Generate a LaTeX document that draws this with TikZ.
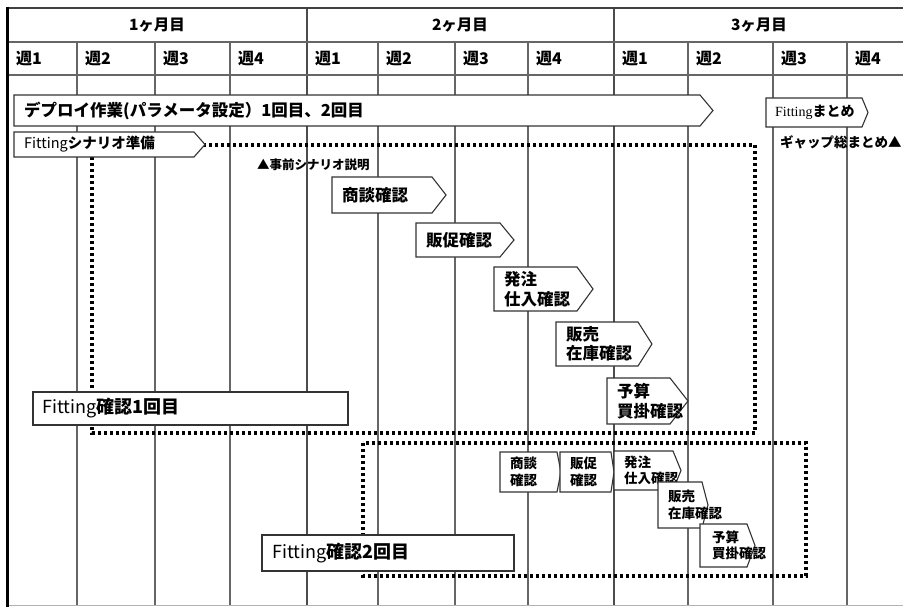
\documentclass[tikz,border=0pt]{standalone}
\usepackage{fontspec}
\setmainfont{Noto Sans CJK JP}
\newfontfamily\serifl{Liberation Serif}
\newcommand\chev[8]{%
  \draw[box] (#2,#3) -- (#4,#3) -- (#5,{(#3+#6)/2}) -- (#4,#6) -- (#2,#6) -- cycle;
  \node[#7] (#1) at ({#2+10},{(#3+#6)/2}) {#8};
}
\begin{document}
\begin{tikzpicture}[x=1pt,y=-1pt,
  grid/.style={draw=black!60,line width=1.5pt},
  box/.style={draw=black!80,line width=1.1pt,fill=white},
  dotline/.style={draw=black,line width=3.2pt,dash pattern=on 3pt off 3pt},
  lblbase/.style={inner sep=0pt,anchor=west,align=left},
  big/.style={lblbase,font=\fontsize{16.5}{19.5}\selectfont\bfseries},
  small/.style={lblbase,font=\fontsize{13.5}{16.5}\selectfont\bfseries},
  head/.style={inner sep=0pt,font=\fontsize{15.5}{18}\selectfont\bfseries},
  week/.style={inner sep=0pt,anchor=west,font=\fontsize{16}{18}\selectfont\bfseries},
  note/.style={inner sep=0pt,anchor=west,font=\fontsize{13.5}{15}\selectfont\bfseries}]
\useasboundingbox[fill=white] (0,0) rectangle (903,607);
% grid
\foreach \x in {77,155,230,378,455,528,688,773,847}
  \draw[grid] (\x,42) -- (\x,605);
\foreach \x in {307,614}
  \draw[grid,draw=black!70] (\x,8) -- (\x,605);
\draw[draw=black!75,line width=2pt] (7,8) -- (903,8);
\draw[grid] (7,42) -- (903,42);
\draw[grid] (7,75) -- (903,75);
\draw[draw=black!30,line width=1pt] (7,605.5) -- (903,605.5);
\draw[draw=black,line width=3pt] (7,7) -- (7,607);
% headers
\node[head] (m1) at (157,25) {1ヶ月目};
\node[head] (m2) at (460,25) {2ヶ月目};
\node[head] (m3) at (759,25) {3ヶ月目};
\foreach \x/\w [count=\i] in {8/1,77/2,155/3,230/4,307/1,378/2,455/3,528/4,614/1,688/2,773/3,847/4}
  \node[week] (w\i) at (\x+8,59) {週\w};
% dotted frames
\draw[dotline] (92,145) rectangle (755,433);
\draw[dotline] (363,443) rectangle (806,576);
% top bars
\chev{deploy}{14}{95}{700}{713}{126}{big}{デプロイ作業(パラメータ設定）1回目、2回目}
\chev{prep}{14}{132}{194}{205}{157}{lblbase,font=\fontsize{14.5}{17}\selectfont}{Fitting{\bfseries シナリオ準備}}
\chev{matome}{766}{98}{862}{868}{127}{lblbase,xshift=-1pt,font=\fontsize{14}{15}\selectfont}{{\serifl Fitting}{\bfseries まとめ}}
\node[note] (gap) at (780,142) {ギャップ総まとめ▲};
\node[note,font=\fontsize{12.5}{15}\selectfont\bfseries] (pre) at (257,165) {▲事前シナリオ説明};
% first round
\chev{s1}{332}{177}{432}{446}{213}{big}{商談確認}
\chev{s2}{416}{223}{500}{514}{257}{big}{販促確認}
\chev{s3}{494}{267}{577}{593}{311}{big}{発注\\仕入確認}
\chev{s4}{556}{322}{638}{652}{366}{big}{販売\\在庫確認}
\chev{s5}{607}{378}{670}{688}{424}{big}{予算\\買掛確認}
\draw[box] (33,392) rectangle (348,425);
\node[lblbase,font=\fontsize{18}{20}\selectfont] (fit1) at (42,408.5) {Fitting{\bfseries 確認1回目}};
% second round
\chev{t1}{500}{452}{557}{561}{492}{small}{商談\\確認}
\chev{t2}{560}{452}{611}{614}{492}{small}{販促\\確認}
\chev{t3}{614}{451}{673}{681}{490}{small}{発注\\仕入確認}
\chev{t4}{658}{482}{702}{708}{528}{small}{販売\\在庫確認}
\chev{t5}{700}{524}{747}{755}{567}{small,xshift=2pt}{予算\\買掛確認}
\draw[box] (262,535) rectangle (514,571);
\node[lblbase,font=\fontsize{18}{20}\selectfont] (fit2) at (272,553) {Fitting{\bfseries 確認2回目}};
\end{tikzpicture}
\end{document}
